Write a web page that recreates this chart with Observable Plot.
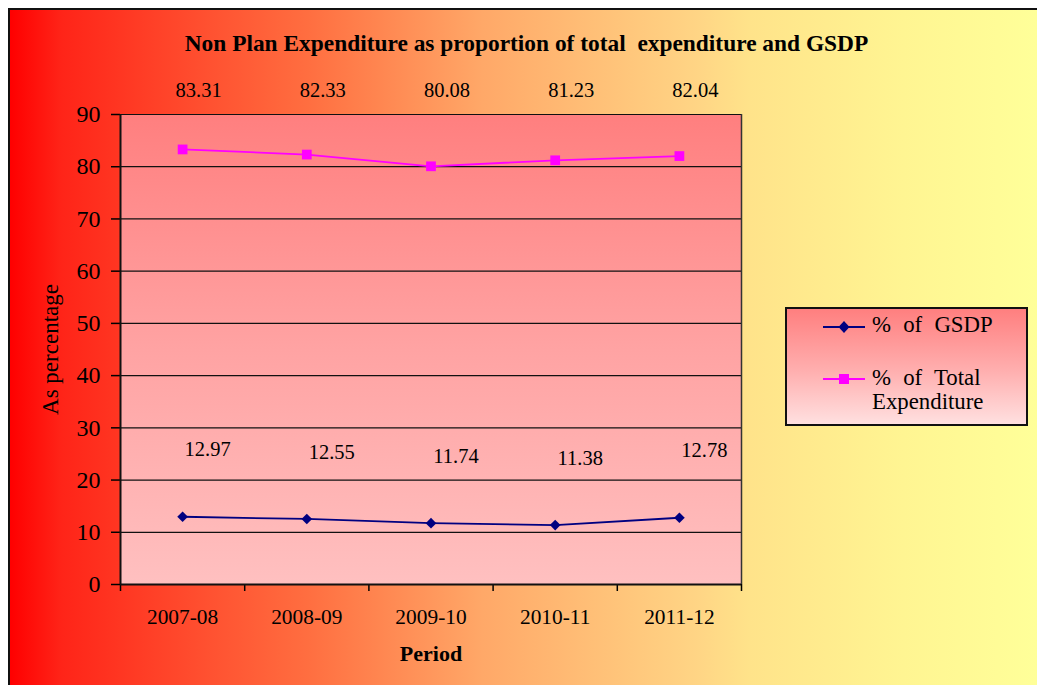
<!DOCTYPE html>
<html>
<head>
<meta charset="utf-8">
<script src="https://cdn.jsdelivr.net/npm/d3@7"></script>
<script src="https://cdn.jsdelivr.net/npm/@observablehq/plot@0.6"></script>
<style>
html, body { margin:0; padding:0; width:1037px; height:685px; overflow:hidden; background:#fff; }
#frame {
  position:absolute; left:8px; top:8px; width:1029px; height:677px; box-sizing:border-box;
  border-left:2px solid #111; border-top:2px solid #111;
  background: linear-gradient(to right,
    #FF0000 0%, #FF2418 5%, #FF5030 19%, #FF6E40 29%, #FFA868 46%,
    #FFD585 67%, #FFE38A 72%, #FFF592 87%, #FFFF99 100%);
}
#frame svg { position:absolute; left:0; top:0; background:transparent !important; }
#title {
  position:absolute; left:0; top:32px; width:1053px; text-align:center;
  font-family:'Liberation Serif','Times New Roman',serif; font-weight:bold; font-size:23.4px;
  line-height:23px; white-space:pre; color:#000;
}
#legend {
  position:absolute; left:785px; top:307px; width:243px; height:119px; box-sizing:border-box;
  border:2px solid #111;
  background: linear-gradient(to bottom, #FF7F7F 0%, #FFB0B0 55%, #FFE0E0 100%);
  font-family:'Liberation Serif','Times New Roman',serif; font-size:22.8px; color:#000;
}
#legend .sym { position:absolute; left:36px; }
#legend .lab { position:absolute; left:85px; width:150px; line-height:24px; word-spacing:6.5px; }
g[aria-label="y-axis tick label"] { font-size:24px; }
g[aria-label="x-axis tick label"] { font-size:21.4px; }
g[aria-label="y-axis label"] { font-size:23px; }
g[aria-label="x-axis label"] { font-size:22px; font-weight:bold; }
</style>
</head>
<body>
<div id="frame"></div>
<div id="title">Non Plan Expenditure as proportion of total  expenditure and GSDP</div>
<div id="legend"></div>
<script>
// ---- data ----
const periods = ["2007-08", "2008-09", "2009-10", "2010-11", "2011-12"];
const gsdpShare = [12.97, 12.55, 11.74, 11.38, 12.78];
const totalExpShare = [83.31, 82.33, 80.08, 81.23, 82.04];
const yTicks = [0, 10, 20, 30, 40, 50, 60, 70, 80, 90];
const seriesNames = ["% of GSDP", "% of Total Expenditure"];
const seriesColors = ["#000080", "#FF00FF"];
const seriesSymbols = ["diamond2", "square"];
const seriesR = [4.8, 5.5];

const boundaries = d3.range(periods.length + 1);
const centers = periods.map((_, i) => i + 0.5);
const seriesValues = [gsdpShare, totalExpShare];
const rows = seriesValues.map((vals, s) => vals.map((v, i) => ({x: i + 0.5, v, s})));

const seriesMarks = rows.flatMap((r, s) => [
  Plot.line(r, {x: "x", y: "v", stroke: seriesColors[s], strokeWidth: 1.8}),
  Plot.dot(r, {x: "x", y: "v", symbol: seriesSymbols[s], r: seriesR[s], fill: seriesColors[s], stroke: "none"})
]);

// value labels: GSDP labels float above their points; total-expenditure labels sit in a row above the plot
const labelMarks = [
  Plot.text(rows[0], {x: "x", y: "v", text: d => d.v.toFixed(2), dx: 25, dy: -67, fontSize: 20.5, fill: "#000"}),
  Plot.text(rows[1], {x: "x", text: d => d.v.toFixed(2), frameAnchor: "top", lineAnchor: "middle", dx: 16, dy: -24, fontSize: 20.5, fill: "#000"})
];

const plot = Plot.plot({
  width: 1027, height: 675,
  marginLeft: 110, marginRight: 296, marginTop: 104, marginBottom: 101,
  style: {background: "transparent", fontFamily: "'Liberation Serif','Times New Roman',serif", fontSize: "20px", color: "#000", overflow: "visible"},
  x: {type: "linear", domain: [0, periods.length]},
  y: {domain: [0, 90]},
  marks: [
    Plot.frame({fill: "url(#plotBg)", stroke: null}),
    Plot.gridY({ticks: yTicks, stroke: "#111", strokeOpacity: 1, strokeWidth: 1.2}),
    Plot.ruleX([periods.length], {stroke: "#333", strokeWidth: 1.5}),
    Plot.axisY({ticks: yTicks, tickSize: 9, tickPadding: 11, strokeWidth: 1.5, label: "As percentage", labelAnchor: "center", labelOffset: 79, labelArrow: "none"}),
    Plot.axisX({ticks: boundaries, tickSize: 7, strokeWidth: 1.5, tickFormat: () => "", label: null}),
    Plot.axisX({ticks: centers, tickSize: 0, tickPadding: 24, tickFormat: d => periods[Math.floor(d)], label: "Period", labelAnchor: "center", labelOffset: 76, labelArrow: "none"}),
    Plot.ruleX([0], {stroke: "#111", strokeWidth: 2}),
    Plot.ruleY([0], {stroke: "#111", strokeWidth: 2}),
    ...seriesMarks,
    ...labelMarks
  ]
});

// gradient definition for plot area
const ns = "http://www.w3.org/2000/svg";
const defs = document.createElementNS(ns, "defs");
defs.innerHTML = '<linearGradient id="plotBg" x1="0" y1="0" x2="0" y2="1">' +
  '<stop offset="0" stop-color="#FF7F7F"/><stop offset="0.5" stop-color="#FFA3A3"/><stop offset="1" stop-color="#FFC0C0"/></linearGradient>';
plot.insertBefore(defs, plot.firstChild);
document.getElementById("frame").appendChild(plot);

// legend built from series arrays
const legend = document.getElementById("legend");
const rowLineY = [18, 70];
const rowTextTop = [4.4, 57.4];
seriesNames.forEach((name, s) => {
  const sym = document.createElementNS(ns, "svg");
  sym.setAttribute("class", "sym");
  sym.setAttribute("width", 42); sym.setAttribute("height", 14);
  sym.style.top = (rowLineY[s] - 7) + "px";
  const shape = seriesSymbols[s] === "square"
    ? `<rect x="16" y="2" width="10" height="10" fill="${seriesColors[s]}"/>`
    : `<path d="M21,1 L26.5,7 L21,13 L15.5,7 Z" fill="${seriesColors[s]}"/>`;
  sym.innerHTML = `<line x1="0" y1="7" x2="42" y2="7" stroke="${seriesColors[s]}" stroke-width="1.8"/>` + shape;
  legend.appendChild(sym);
  const lab = document.createElement("div");
  lab.className = "lab";
  lab.style.top = rowTextTop[s] + "px";
  lab.textContent = name;
  legend.appendChild(lab);
});
</script>
</body>
</html>
